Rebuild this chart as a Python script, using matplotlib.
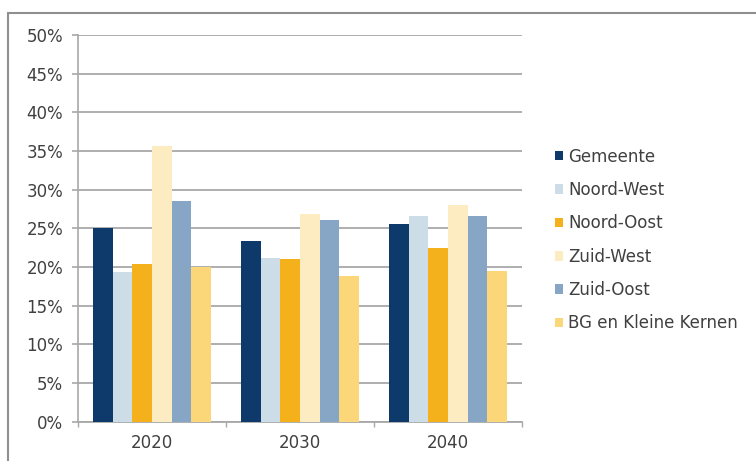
import numpy as np
import matplotlib
matplotlib.use("Agg")
import matplotlib.pyplot as plt
from matplotlib.patches import Patch, Rectangle
from matplotlib.ticker import PercentFormatter

plt.rcParams["font.family"] = ["DejaVu Sans"]

# data (percent)
years = ["2020", "2030", "2040"]
regions = ["Gemeente", "Noord-West", "Noord-Oost", "Zuid-West", "Zuid-Oost",
           "BG en Kleine Kernen"]
gemeente = [25.0, 23.3, 25.6]
noord_west = [19.3, 21.2, 26.6]
noord_oost = [20.4, 21.1, 22.5]
zuid_west = [35.7, 26.8, 28.0]
zuid_oost = [28.5, 26.1, 26.6]
bg_kernen = [20.0, 18.8, 19.5]

series = [gemeente, noord_west, noord_oost, zuid_west, zuid_oost, bg_kernen]
colors = ["#0d3a6a", "#cddde8", "#f4b11c", "#fdebc2", "#87a5c5", "#fbd77a"]

text_col = "#404040"
grid_col = "#a8a8a8"

fig = plt.figure(figsize=(7.56, 4.61), dpi=100)
ax = fig.add_axes([78 / 756, 1 - 421.7 / 461, 444 / 756, 386.7 / 461])

x = np.arange(len(years))
n = len(series)
w = 0.8 / n
for i, (vals, c) in enumerate(zip(series, colors)):
    ax.bar(x - 0.4 + w * (i + 0.5), vals, width=w, color=c, zorder=3,
           label=regions[i])

ax.set_xlim(-0.5, len(years) - 0.5)
ax.set_ylim(0, 50)
ax.set_yticks(np.arange(0, 51, 5))
ax.yaxis.set_major_formatter(PercentFormatter(decimals=0))
ax.set_xticks(x)
ax.set_xticklabels(years)
ax.set_xticks(np.arange(-0.5, len(years), 1.0), minor=True)

ax.grid(axis="y", color=grid_col, linewidth=1.3, zorder=0)
for s in ["top", "right"]:
    ax.spines[s].set_visible(False)
ax.spines["left"].set_color(grid_col)
ax.spines["bottom"].set_color(grid_col)
ax.spines["left"].set_linewidth(1.2)
ax.spines["bottom"].set_linewidth(1.3)

ax.tick_params(axis="y", length=4.3, width=1.2, color=grid_col, pad=6.5,
               labelsize=12, labelcolor=text_col)
ax.tick_params(axis="x", which="major", length=0, pad=9, labelsize=12,
               labelcolor=text_col)
ax.tick_params(axis="x", which="minor", length=3.5, width=1, color=grid_col)

handles = [Patch(facecolor=c, edgecolor="none") for c in colors]
fig.legend(handles, regions, loc="center left",
           bbox_to_anchor=(555 / 756, 1 - 240 / 461), frameon=False,
           fontsize=12, labelcolor=text_col, handlelength=0.5,
           handleheight=0.5, handletextpad=0.3, labelspacing=0.92,
           borderpad=0, borderaxespad=0)

# outer chart frame (cut off at right and bottom in the reference)
fig.patches.append(Rectangle((8 / 756, -0.1), 2, 1 - 13 / 461 + 0.1,
                             transform=fig.transFigure, fill=False,
                             edgecolor="#8f8f8f", linewidth=1.5))

fig.savefig("out.png", dpi=100)
plt.close(fig)
